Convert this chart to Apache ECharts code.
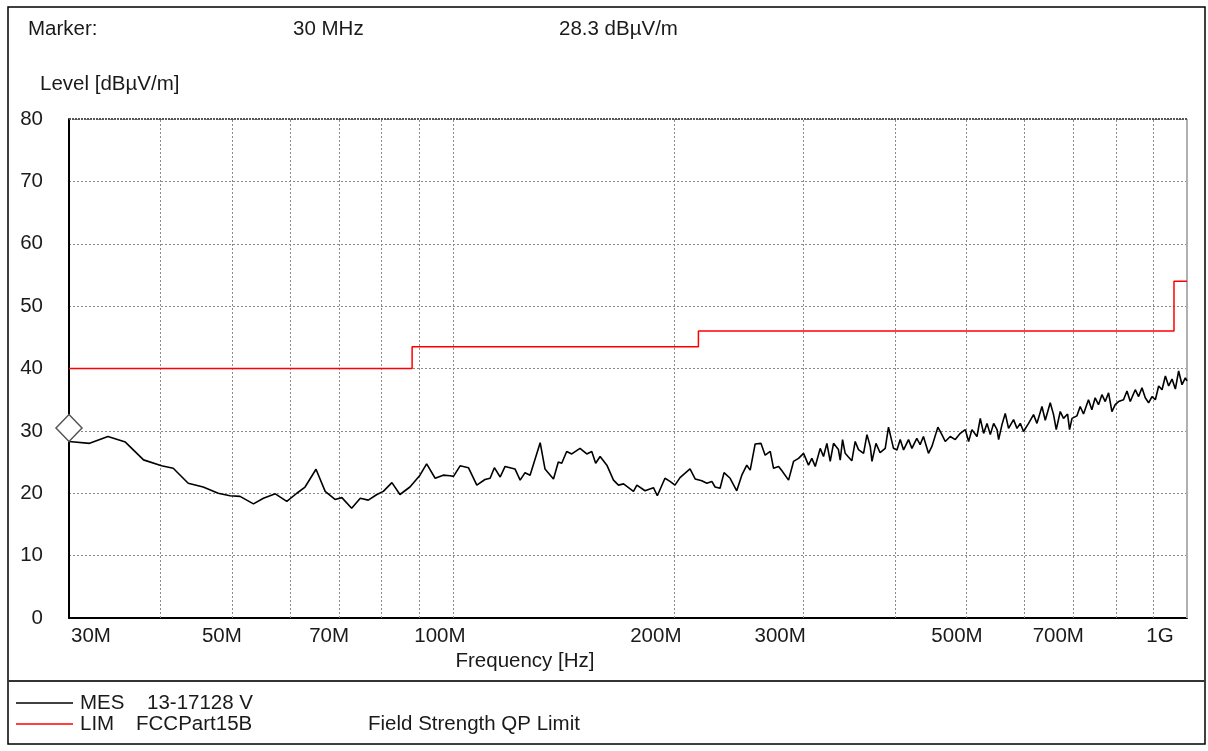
<!DOCTYPE html>
<html>
<head>
<meta charset="utf-8">
<script src="https://cdn.jsdelivr.net/npm/echarts@6/dist/echarts.min.js"></script>
<style>
  html, body { margin: 0; padding: 0; background: #fff; }
  #chart { width: 1208px; height: 751px; }
</style>
</head>
<body>
<div id="chart"></div>
<script>
// Measured field strength (MES trace), frequency in MHz
const freqMHz = [
  30.0, 32.0, 33.9, 35.8, 37.9, 40.1, 41.6, 43.6, 45.7, 47.9, 49.7, 51.3, 53.5,
  55.2, 57.3, 59.4, 61.3, 62.9, 65.1, 67.0, 69.1, 70.6, 72.8, 74.8, 76.7, 78.8, 80.4, 82.6, 84.7, 87.4, 90.2, 92.1, 94.6, 97.0, 99.1,
  100.2, 102.3, 105.0, 107.8, 110.6, 112.4, 113.9, 116.0, 117.8, 121.5, 123.5, 125.4, 127.4, 131.5, 133.5, 137.1, 139.2, 140.7, 142.9, 145.2, 149.0, 152.2, 154.6, 156.5, 158.7, 162.1, 165.5, 168.1, 170.8, 176.2, 178.1, 182.7,
  187.6, 189.9, 194.5, 197.6, 200.7, 203.9, 210.4, 213.8, 218.3, 221.8, 225.3, 227.6, 231.2, 234.1, 238.6, 243.6, 247.5, 251.4, 254.1, 258.1, 262.8, 266.3, 270.6, 273.4, 277.8, 280.7, 286.6, 291.1, 295.7, 300.4, 305.1, 308.3, 311.6, 316.5, 319.8, 323.2, 326.6, 330.0,
  335.1, 337.0, 339.5, 342.3, 345.8, 349.5, 353.2, 356.9, 362.6, 366.5, 370.3, 372.3, 377.0, 381.9, 388.1, 392.1, 398.3, 402.6, 406.8, 411.1, 417.5, 422.0, 428.5, 433.0, 437.5, 444.5, 449.3, 457.8, 463.6, 468.5, 475.9, 483.4, 491.1, 498.9, 504.1, 509.4, 517.5, 522.9, 528.4, 534.1, 539.6, 545.3, 551.1, 553.9, 559.7, 565.5, 571.4, 580.4, 586.7, 592.8, 598.9, 608.4,
  618.0, 624.6, 634.5, 641.1, 651.2, 658.0, 663.6, 672.0, 678.9, 687.6, 691.9, 697.2, 707.9, 715.3, 722.8, 734.2, 742.0, 749.7, 757.6, 765.8, 773.8, 781.9, 790.2, 798.4, 806.8, 819.5, 828.4, 837.0, 850.2, 859.1, 868.3, 877.3, 886.5, 896.1, 905.5, 915.0, 924.7, 934.4, 944.1, 954.1, 964.1, 974.1, 984.5, 994.8, 1000
];
// Level in dBµV/m
const levelMES = [
  28.3, 28.0, 29.1, 28.2, 25.35, 24.4, 24.0, 21.6, 21.0, 20.0, 19.6, 19.5, 18.3,
  19.2, 19.9, 18.7, 20.0, 21.0, 23.85, 20.3, 19.0, 19.3, 17.6, 19.2, 18.9, 19.8, 20.3, 21.7, 19.8, 21.0, 22.9, 24.7, 22.4, 22.9, 22.8,
  22.7, 24.4, 24.1, 21.3, 22.2, 22.4, 24.1, 22.6, 24.3, 23.9, 22.1, 23.3, 22.9, 28.1, 23.9, 22.3, 25.0, 24.8, 26.7, 26.3, 27.2, 26.3, 26.7, 24.8, 25.9, 24.5, 22.1, 21.3, 21.5, 20.3, 21.3, 20.4,
  20.9, 19.6, 22.4, 21.9, 21.3, 22.5, 23.9, 22.3, 22.0, 21.6, 21.9, 21.0, 20.8, 23.3, 22.4, 20.4, 22.9, 24.5, 23.7, 27.9, 28.0, 26.1, 26.7, 24.0, 24.3, 23.6, 22.1, 25.1, 25.6, 26.4, 24.5, 25.6, 24.3, 27.2, 25.9, 28.0, 25.1, 28.0,
  27.0, 25.3, 28.6, 26.4, 25.8, 25.2, 28.3, 27.0, 26.4, 29.4, 27.5, 25.1, 28.0, 26.5, 27.2, 30.6, 27.2, 26.95, 28.6, 26.95, 28.6, 27.2, 28.8, 27.8, 29.1, 26.4, 27.5, 30.6, 29.4, 28.3, 29.1, 28.6, 29.6, 30.2, 28.3, 30.2, 29.1, 32.0, 29.6, 31.2, 29.4, 31.2, 30.2, 28.6, 31.0, 32.8, 30.4, 31.8, 30.4, 31.2, 29.9, 31.2,
  32.6, 31.2, 33.9, 31.7, 34.5, 32.6, 30.2, 33.1, 32.0, 32.7, 30.2, 32.0, 32.4, 33.9, 32.7, 35.0, 33.4, 35.3, 34.2, 35.8, 34.7, 36.1, 33.1, 34.2, 34.7, 35.0, 36.4, 34.7, 36.6, 35.5, 36.9, 35.3, 34.5, 35.5, 35.0, 37.2, 36.6, 38.8, 37.2, 38.3, 36.7, 39.6, 37.4, 38.5, 38.0
];

// FCC Part 15B quasi-peak limit (step curve)
const limitFreq = [30, 88, 88, 216, 216, 960, 960, 1000];
const limitLevel = [40, 40, 43.5, 43.5, 46, 46, 54, 54];

// Marker readout
const markerFreq = 30;
const markerLevel = 28.3;

// Axis grid and labels
const xGridValues = [40, 50, 60, 70, 80, 90, 100, 200, 300, 400, 500, 600, 700, 800, 900];
const xLabelValues = [30, 50, 70, 100, 200, 300, 500, 700, 1000];
const xLabelTexts = ['30M', '50M', '70M', '100M', '200M', '300M', '500M', '700M', '1G'];
const yMin = 0, yMax = 80, yStep = 10;

const FONT = '"Liberation Sans", Arial, sans-serif';
const FS = 20.5;
const TXT = '#1a1a1a';
const GRID_LINE = { color: '#8a8a8a', type: [2, 2], width: 1 };

const chart = echarts.init(document.getElementById('chart'), null, { renderer: 'canvas' });

const gridMarks = xGridValues.map(v => ({ xAxis: v, lineStyle: GRID_LINE }));
gridMarks.push({ xAxis: 1000, lineStyle: { color: '#b0b0b0', type: 'solid', width: 2 } });
gridMarks.push({ yAxis: yMax, lineStyle: { color: '#555', type: [2, 1], width: 2 } });

chart.setOption({
  animation: false,
  backgroundColor: '#fff',
  grid: { left: 69, top: 119, right: 21, bottom: 133 },
  xAxis: {
    type: 'log',
    logBase: 10,
    min: 30,
    max: 1000,
    axisLine: { lineStyle: { color: '#000', width: 2 } },
    axisTick: { show: false },
    axisLabel: { show: false },
    splitLine: { show: false },
    minorSplitLine: { show: false }
  },
  yAxis: {
    type: 'value',
    min: yMin,
    max: yMax,
    interval: yStep,
    axisLine: { show: true, lineStyle: { color: '#000', width: 2 } },
    axisTick: { show: false },
    axisLabel: { color: TXT, fontFamily: FONT, fontSize: FS, margin: 26 },
    splitLine: { show: true, lineStyle: GRID_LINE }
  },
  series: [
    {
      name: 'LIM',
      type: 'line',
      data: limitFreq.map((f, i) => [f, limitLevel[i]]),
      symbol: 'none',
      lineStyle: { color: '#ff0000', width: 1.5 },
      z: 3,
      markLine: {
        silent: true,
        symbol: 'none',
        label: { show: false },
        data: gridMarks,
        z: 1
      }
    },
    {
      name: 'MES',
      type: 'line',
      data: freqMHz.map((f, i) => [f, levelMES[i]]),
      symbol: 'none',
      lineStyle: { color: '#000', width: 1.6 },
      z: 4,
      markPoint: {
        silent: true,
        symbol: 'diamond',
        symbolSize: [26, 27],
        symbolOffset: [0, -13.5],
        itemStyle: { color: '#fff', borderColor: '#555', borderWidth: 1.5 },
        label: { show: false },
        data: [{ coord: [markerFreq, markerLevel] }]
      }
    }
  ]
});

// Frequency tick labels placed through the axis scale
const yBase = chart.convertToPixel({ yAxisIndex: 0 }, yMin);
const labelShift = [0, -10, -10, -13, -18, -23, -9, -15, -27];
const graphics = xLabelValues.map((v, i) => {
  const px = chart.convertToPixel({ xAxisIndex: 0 }, v);
  const first = i === 0;
  return {
    type: 'text',
    x: first ? px + 2 : px + labelShift[i],
    y: yBase + 18,
    style: {
      text: xLabelTexts[i],
      fill: TXT,
      font: FS + 'px ' + FONT,
      textAlign: first ? 'left' : 'center',
      textVerticalAlign: 'middle'
    }
  };
});

function txt(text, x, y, align) {
  return {
    type: 'text', x: x, y: y,
    style: { text: text, fill: TXT, font: FS + 'px ' + FONT, textAlign: align || 'left', textVerticalAlign: 'middle' }
  };
}

graphics.push(
  // outer frame and legend divider
  { type: 'rect', shape: { x: 8, y: 7, width: 1197, height: 737 }, style: { fill: 'none', stroke: '#000', lineWidth: 1.5 } },
  { type: 'line', shape: { x1: 8, y1: 681, x2: 1205, y2: 681 }, style: { stroke: '#333', lineWidth: 2 } },
  // marker readout
  txt('Marker:', 28, 29),
  txt('30 MHz', 293, 29),
  txt('28.3 dBµV/m', 559, 29),
  // axis titles
  txt('Level [dBµV/m]', 40, 84),
  txt('Frequency [Hz]', 525, 661, 'center'),
  // legend
  { type: 'line', shape: { x1: 16, y1: 703, x2: 73, y2: 703 }, style: { stroke: '#000', lineWidth: 1.3 } },
  { type: 'line', shape: { x1: 16, y1: 724, x2: 73, y2: 724 }, style: { stroke: '#ff0000', lineWidth: 1.3 } },
  txt('MES', 80, 703),
  txt('13-17128 V', 147, 703),
  txt('LIM', 80, 724),
  txt('FCCPart15B', 136, 724),
  txt('Field Strength QP Limit', 368, 724)
);

chart.setOption({ graphic: graphics });
</script>
</body>
</html>
